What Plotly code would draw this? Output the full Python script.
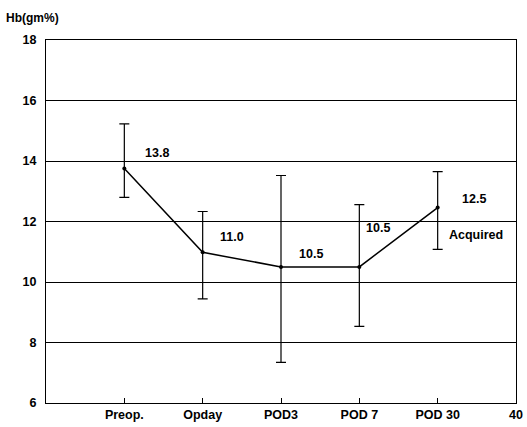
import plotly.graph_objects as go

categories = ["Preop.", "Opday", "POD3", "POD 7", "POD 30"]
x_pos = [1, 2, 3, 4, 5]
means = [13.75, 10.98, 10.5, 10.5, 12.46]
upper = [15.23, 12.33, 13.52, 12.56, 13.65]
lower = [12.8, 9.44, 7.34, 8.53, 11.08]
value_labels = ["13.8", "11.0", "10.5", "10.5", "12.5"]
tick_vals = [1, 2, 3, 4, 5, 6]
tick_text = ["Preop.", "Opday", "POD3", "POD 7", "POD 30", "40"]

err_plus = [u - m for u, m in zip(upper, means)]
err_minus = [m - l for m, l in zip(means, lower)]

font_family = "Liberation Sans, Arial, sans-serif"

fig = go.Figure()
fig.add_trace(go.Scatter(
    x=x_pos, y=means, mode="lines+markers",
    line=dict(color="black", width=1.5),
    marker=dict(color="black", size=4),
    error_y=dict(type="data", symmetric=False, array=err_plus, arrayminus=err_minus,
                 color="black", thickness=1.2, width=5),
    showlegend=False,
))

# value labels
label_offsets = [(0.42, 0.53), (0.38, 0.5), (0.38, 0.41), (0.24, 1.3), (0.46, 0.27)]
for xv, yv, t, (dx, dy) in zip(x_pos, means, value_labels, label_offsets):
    fig.add_annotation(x=xv + dx, y=yv + dy, text=t, showarrow=False,
                       font=dict(family=font_family, size=12.5, color="black", weight="bold"))
fig.add_annotation(x=5.49, y=11.54, text="Acquired", showarrow=False,
                   font=dict(family=font_family, size=12.5, color="black", weight="bold"))
fig.add_annotation(x=0, y=1.0, xref="paper", yref="paper", xshift=-42, yshift=31,
                   xanchor="left", yanchor="top", text="Hb(gm%)", showarrow=False,
                   font=dict(family=font_family, size=12, color="black", weight="bold"))

fig.update_layout(
    width=527, height=427,
    margin=dict(l=46, r=11, t=40, b=24),
    plot_bgcolor="white", paper_bgcolor="white",
    font=dict(family=font_family, color="black"),
)
fig.update_xaxes(
    automargin=False,
    range=[0, 6], tickvals=tick_vals, ticktext=tick_text,
    ticks="inside", ticklen=5, tickcolor="black",
    showgrid=False, zeroline=False,
    showline=True, linecolor="black", linewidth=1.2, mirror=True,
    tickfont=dict(family=font_family, size=12.5, color="black", weight="bold"),
)
fig.update_yaxes(
    automargin=False,
    range=[6, 18], dtick=2, tick0=6,
    showgrid=True, gridcolor="black", gridwidth=1,
    zeroline=False, ticks="", ticklabelstandoff=6,
    showline=True, linecolor="black", linewidth=1.2, mirror=True,
    tickfont=dict(family=font_family, size=12.5, color="black", weight="bold"),
)

fig.write_html("out.html", config={"displayModeBar": False},
               post_script="document.body.style.margin='0';")
